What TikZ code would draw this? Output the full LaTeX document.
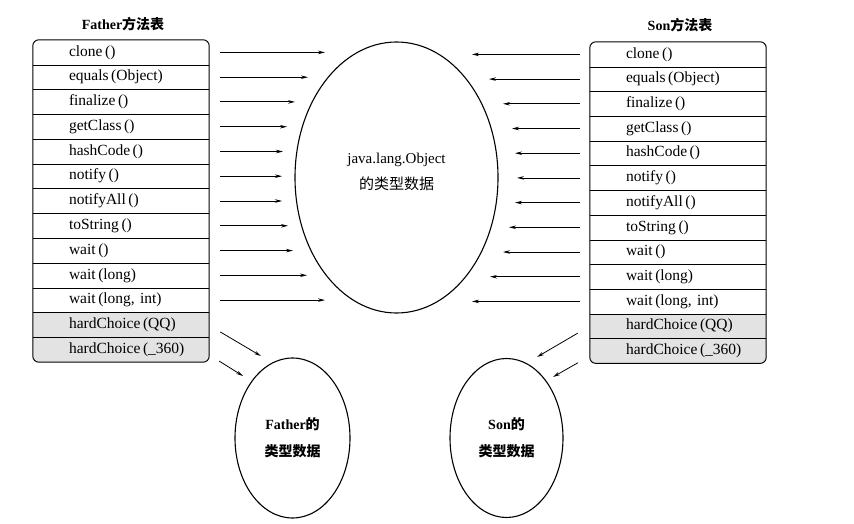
\documentclass[tikz,border=0pt]{standalone}
\usepackage{fontspec}
\setmainfont{Liberation Serif}
\newfontfamily\cjk{Noto Sans CJK SC}
\usetikzlibrary{positioning, arrows.meta, shapes.geometric, backgrounds}
\usepackage{xcolor}

\begin{document}
\begin{tikzpicture}[x=1pt, y=-1pt,
        row/.style={minimum width=176, minimum height=24.75, inner xsep=36,
                    inner ysep=0, text width=104, align=left,
                    font=\fontsize{15.5}{17}\selectfont},
        title/.style={font=\fontsize{14}{16}\selectfont\bfseries},
        blob/.style={ellipse, draw, line width=1.1, inner sep=0, align=center},
        arr/.style={-{Stealth[length=7, width=3.5]}, line width=0.8},
    ]
    \useasboundingbox (0,0) rectangle (854,524);

    % method tables
    \node[title] (ftitle) at (123,24) {Father{\cjk 方法表}};
    \node[title] (stitle) at (680,25) {Son{\cjk 方法表}};

    \node[row] (f1)  at (121, 52.4)  {clone\,()};
    \node[row] (f2)  at (121, 77.2)  {equals\,(Object)};
    \node[row] (f3)  at (121,101.9)  {finalize\,()};
    \node[row] (f4)  at (121,126.7)  {getClass\,()};
    \node[row] (f5)  at (121,151.5)  {hashCode\,()};
    \node[row] (f6)  at (121,176.2)  {notify\,()};
    \node[row] (f7)  at (121,201.0)  {notifyAll\,()};
    \node[row] (f8)  at (121,225.8)  {toString\,()};
    \node[row] (f9)  at (121,250.6)  {wait\,()};
    \node[row] (f10) at (121,275.3)  {wait\,(long)};
    \node[row] (f11) at (121,300.1)  {wait\,(long, int)};
    \node[row] (f12) at (121,324.9)  {hardChoice\,(QQ)};
    \node[row] (f13) at (121,349.6)  {hardChoice\,(\_360)};

    \node[row] (s1)  at (678, 54.4)  {clone\,()};
    \node[row] (s2)  at (678, 79.1)  {equals\,(Object)};
    \node[row] (s3)  at (678,103.8)  {finalize\,()};
    \node[row] (s4)  at (678,128.5)  {getClass\,()};
    \node[row] (s5)  at (678,153.2)  {hashCode\,()};
    \node[row] (s6)  at (678,177.9)  {notify\,()};
    \node[row] (s7)  at (678,202.6)  {notifyAll\,()};
    \node[row] (s8)  at (678,227.3)  {toString\,()};
    \node[row] (s9)  at (678,252.0)  {wait\,()};
    \node[row] (s10) at (678,276.7)  {wait\,(long)};
    \node[row] (s11) at (678,301.4)  {wait\,(long, int)};
    \node[row] (s12) at (678,326.1)  {hardChoice\,(QQ)};
    \node[row] (s13) at (678,350.8)  {hardChoice\,(\_360)};

    \begin{scope}[on background layer]
        \begin{scope}
            \clip[rounded corners=6] (f1.north west) rectangle (f13.south east);
            \fill[gray!22] (f12.north west) rectangle (f13.south east);
        \end{scope}
        \begin{scope}
            \clip[rounded corners=6] (s1.north west) rectangle (s13.south east);
            \fill[gray!22] (s12.north west) rectangle (s13.south east);
        \end{scope}
    \end{scope}

    \foreach \t in {f, s} {
        \foreach \i in {1,...,12}
            \draw[line width=0.7] (\t\i.south west) -- (\t\i.south east);
        \draw[line width=1, rounded corners=6] (\t1.north west) rectangle (\t13.south east);
    }

    % type data
    \node[blob, minimum width=203, minimum height=271,
          label={[align=center, yshift=6, font=\fontsize{15}{26}\selectfont]center:java.lang.Object\\{\cjk 的类型数据}}]
          (obj) at (396.5,177.5) {};
    \node[blob, minimum width=115, minimum height=160,
          font=\fontsize{14}{27}\selectfont\bfseries]
          (fdata) at (292.5,438) {Father{\cjk 的}\\{\cjk 类型数据}};
    \node[blob, minimum width=113, minimum height=159,
          font=\fontsize{14}{27}\selectfont\bfseries]
          (sdata) at (506.5,438) {Son{\cjk 的}\\{\cjk 类型数据}};

    % arrows
    \foreach \i/\ex in {1/325, 2/308, 3/295, 4/287, 5/283, 6/282, 7/282, 8/288, 9/293, 10/307, 11/325}
        \draw[arr] ([xshift=11]f\i.east) -- (f\i.east -| \ex,0);
    \foreach \i/\ex in {1/472, 2/489, 3/503, 4/512, 5/515, 6/517, 7/515, 8/509, 9/503, 10/490, 11/472}
        \draw[arr] ([xshift=-10]s\i.west) -- (s\i.west -| \ex,0);

    \draw[arr] ([shift={(11,7)}]f12.east)    -- ([shift={(-31.5,-82)}]fdata.center);
    \draw[arr] ([shift={(10,11.5)}]f13.east) -- ([shift={(-49.5,-62)}]fdata.center);
    \draw[arr] ([shift={(-12,7)}]s12.west)   -- ([shift={(30.5,-81)}]sdata.center);
    \draw[arr] ([shift={(-12,12)}]s13.west)  -- ([shift={(46.5,-61)}]sdata.center);
\end{tikzpicture}
\end{document}
